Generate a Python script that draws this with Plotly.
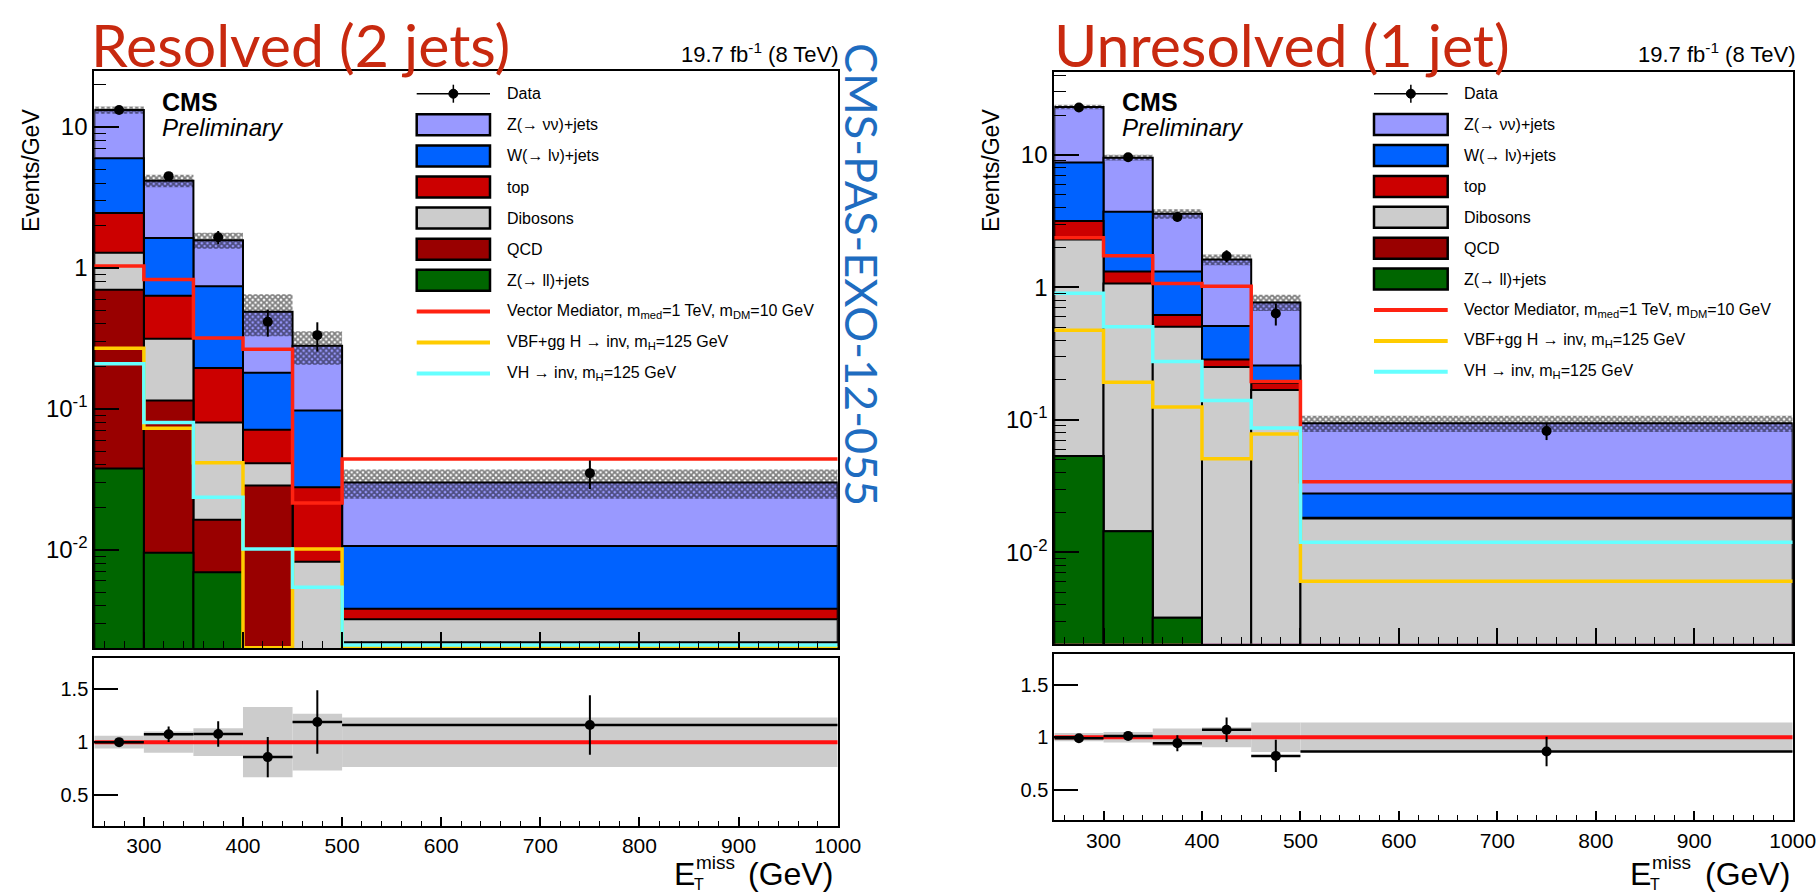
import plotly.graph_objects as go

W, H = 1817, 894
FONT = "Liberation Sans, Arial, Helvetica, sans-serif"

# ---------------- data ----------------
bin_edges = [250, 300, 350, 400, 450, 500, 1000]

# Resolved (2 jets)  -- events / GeV per process
res_zll = [0.0377, 0.0095, 0.0069, 0.0, 0.0, 0.0]
res_qcd = [0.662, 0.105, 0.0094, 0.0285, 0.0, 0.0022]
res_dib = [0.58, 0.200, 0.0637, 0.0125, 0.0082, 0.0010]
res_top = [1.17, 0.321, 0.115, 0.030, 0.0195, 0.0006]
res_wlv = [3.55, 0.994, 0.545, 0.109, 0.0693, 0.0068]
res_zvv = [7.2, 2.53, 0.83, 0.309, 0.183, 0.0194]
res_bkg_relunc = [0.06, 0.10, 0.13, 0.33, 0.267, 0.233]
res_data = [13.2, 4.48, 1.65, 0.415, 0.333, 0.0349]
res_data_err = [0.5, 0.3, 0.18, 0.09, 0.078, 0.008]
res_sig_vector = [1.03, 0.828, 0.318, 0.264, 0.0214, 0.044]
res_sig_vbf = [0.269, 0.0728, 0.0414, 0.00201, 0.0101, 0.00201]
res_sig_vh = [0.209, 0.080, 0.0235, 0.0101, 0.0054, 0.0021]
res_ratio = [1.0, 1.075, 1.076, 0.859, 1.19, 1.162]
res_ratio_err = [0.04, 0.073, 0.12, 0.19, 0.30, 0.28]

# Unresolved (1 jet)
unr_zll = [0.0533, 0.0144, 0.0032, 0.0, 0.0, 0.0]
unr_qcd = [0.0, 0.0, 0.0, 0.0, 0.0, 0.0]
unr_dib = [2.247, 1.056, 0.501, 0.25, 0.168, 0.018]
unr_top = [0.87, 0.25, 0.114, 0.035, 0.022, 0.0002]
unr_wlv = [5.58, 2.41, 0.70, 0.225, 0.067, 0.0096]
unr_zvv = [14.25, 5.81, 2.28, 1.11, 0.513, 0.0662]
unr_bkg_relunc = [0.04, 0.05, 0.083, 0.095, 0.14, 0.14]
unr_data = [22.8, 9.6, 3.40, 1.725, 0.635, 0.0823]
unr_data_err = [0.68, 0.44, 0.26, 0.18, 0.12, 0.012]
unr_sig_vector = [2.37, 1.73, 1.07, 1.02, 0.195, 0.034]
unr_sig_vbf = [0.474, 0.192, 0.125, 0.0509, 0.078, 0.00605]
unr_sig_vh = [0.904, 0.504, 0.276, 0.140, 0.0868, 0.0119]
unr_ratio = [0.99, 1.012, 0.943, 1.07, 0.822, 0.863]
unr_ratio_err = [0.03, 0.04, 0.076, 0.116, 0.154, 0.14]

ratio_ref = 1.0

bkg_labels = ["Z(→ νν)+jets", "W(→ lν)+jets", "top", "Dibosons", "QCD", "Z(→ ll)+jets"]
bkg_colors = ["#9999ff", "#0062ff", "#cc0000", "#cccccc", "#990000", "#006600"]
sig_labels = ["Vector Mediator, m<sub>med</sub>=1 TeV, m<sub>DM</sub>=10 GeV",
              "VBF+gg H → inv, m<sub>H</sub>=125 GeV",
              "VH → inv, m<sub>H</sub>=125 GeV"]
sig_colors = ["#ff2211", "#ffcc00", "#66ffff"]

centers = [(bin_edges[i] + bin_edges[i + 1]) / 2 for i in range(len(bin_edges) - 1)]
widths = [bin_edges[i + 1] - bin_edges[i] for i in range(len(bin_edges) - 1)]


def px(x):
    return x / W


def py(y):
    return 1 - y / H


fig = go.Figure()


def add_panel(xm, ym, xr, yr, procs_bottom_up, relunc, data, data_err, sigs, ratio, ratio_err):
    cum = []
    run = [0.0] * len(centers)
    for vals in procs_bottom_up:
        run = [a + b for a, b in zip(run, vals)]
        cum.append(run)
    colors_bottom_up = list(reversed(bkg_colors))
    for k in range(len(cum) - 1, -1, -1):
        fig.add_trace(go.Bar(
            x=centers, y=cum[k], width=widths, xaxis=xm, yaxis=ym,
            marker=dict(color=colors_bottom_up[k], line=dict(color="black", width=2)),
            showlegend=False, hoverinfo="skip"))
    total = cum[-1]
    lo = [t * (1 - r) for t, r in zip(total, relunc)]
    hi = [t * (1 + r) for t, r in zip(total, relunc)]
    fig.add_trace(go.Bar(
        x=centers, base=lo, y=[h - l for h, l in zip(hi, lo)], width=widths,
        xaxis=xm, yaxis=ym,
        marker=dict(color="rgba(0,0,0,0)", line=dict(width=0),
                    pattern=dict(shape="x", fgcolor="black", bgcolor="rgba(0,0,0,0)",
                                 size=4, solidity=0.7, fillmode="overlay")),
        showlegend=False, hoverinfo="skip"))
    for vals, col in zip(sigs, sig_colors):
        fig.add_trace(go.Scatter(
            x=bin_edges, y=vals + [vals[-1]], mode="lines", xaxis=xm, yaxis=ym,
            line=dict(shape="hv", color=col, width=3.5), showlegend=False))
    fig.add_trace(go.Scatter(
        x=centers, y=data, mode="markers", xaxis=xm, yaxis=ym,
        marker=dict(color="black", size=10),
        error_y=dict(type="data", array=data_err, color="black", thickness=2, width=0),
        showlegend=False))
    fig.add_trace(go.Bar(
        x=centers, base=[1 - r for r in relunc], y=[2 * r for r in relunc], width=widths,
        xaxis=xr, yaxis=yr, marker=dict(color="#cccccc", line=dict(width=0)),
        showlegend=False, hoverinfo="skip"))
    fig.add_trace(go.Scatter(
        x=[bin_edges[0], bin_edges[-1]], y=[ratio_ref, ratio_ref], mode="lines",
        xaxis=xr, yaxis=yr, line=dict(color="#ff1010", width=4), showlegend=False))
    fig.add_trace(go.Scatter(
        x=centers, y=ratio, mode="markers", xaxis=xr, yaxis=yr,
        marker=dict(color="black", size=10),
        error_y=dict(type="data", array=ratio_err, color="black", thickness=2, width=0),
        error_x=dict(type="data", array=[w / 2 for w in widths], color="black", thickness=2.5, width=0),
        showlegend=False))


add_panel("x", "y", "x2", "y2",
          [res_zll, res_qcd, res_dib, res_top, res_wlv, res_zvv],
          res_bkg_relunc, res_data, res_data_err,
          [res_sig_vector, res_sig_vbf, res_sig_vh], res_ratio, res_ratio_err)
add_panel("x3", "y3", "x4", "y4",
          [unr_zll, unr_qcd, unr_dib, unr_top, unr_wlv, unr_zvv],
          unr_bkg_relunc, unr_data, unr_data_err,
          [unr_sig_vector, unr_sig_vbf, unr_sig_vh], unr_ratio, unr_ratio_err)

minor_log = []
for d in [0.001, 0.01, 0.1, 1, 10]:
    for m in range(2, 10):
        minor_log.append(round(d * m, 6))

frame = dict(showline=True, mirror=True, linecolor="black", linewidth=2,
             showgrid=False, zeroline=False, automargin=False)


def main_x(domain, anchor):
    return dict(domain=domain, anchor=anchor, range=[250, 1000], showticklabels=False,
                ticks="inside", ticklen=16, tickwidth=1.5, tickcolor="black",
                tick0=0, dtick=100,
                minor=dict(ticks="inside", ticklen=7, tickwidth=1.2, tickcolor="black", tick0=0, dtick=20),
                **frame)


def main_y(domain, anchor, rng):
    return dict(domain=domain, anchor=anchor, type="log", range=rng,
                tickmode="array", tickvals=[0.01, 0.1, 1, 10],
                ticktext=["10<sup>-2</sup>", "10<sup>-1</sup>", "1", "10"],
                ticks="inside", ticklen=25, tickwidth=1.5, tickcolor="black",
                tickfont=dict(family=FONT, size=24, color="black"),
                minor=dict(tickmode="array", tickvals=minor_log, ticks="inside", ticklen=12,
                           tickwidth=1.2, tickcolor="black"),
                **frame)


def ratio_x(domain, anchor):
    return dict(domain=domain, anchor=anchor, range=[250, 1000],
                tick0=0, dtick=100, ticks="inside", ticklen=9, tickwidth=1.5, tickcolor="black",
                tickfont=dict(family=FONT, size=21, color="black"),
                minor=dict(ticks="inside", ticklen=5, tickwidth=1.2, tickcolor="black", tick0=0, dtick=20),
                **frame)


def ratio_y(domain, anchor):
    return dict(domain=domain, anchor=anchor, range=[0.21, 1.79],
                tickmode="array", tickvals=[0.5, 1, 1.5], ticktext=["0.5", "1", "1.5"],
                ticks="inside", ticklen=24, tickwidth=2, tickcolor="black",
                tickfont=dict(family=FONT, size=20, color="black"),
                **frame)


LX = [px(94.3), px(837.7)]
RX = [px(1054.3), px(1792.7)]

fig.update_layout(
    width=W, height=H, margin=dict(l=0, r=0, t=0, b=0, autoexpand=False), autosize=False,
    paper_bgcolor="white", plot_bgcolor="white", barmode="overlay", showlegend=False,
    font=dict(family=FONT, color="black"),
    xaxis=main_x(LX, "y"),
    yaxis=main_y([py(648.2), py(70.7)], "x", [-2.70, 1.40]),
    xaxis2=ratio_x(LX, "y2"),
    yaxis2=ratio_y([py(826), py(658.3)], "x2"),
    xaxis3=main_x(RX, "y3"),
    yaxis3=main_y([py(643.6), py(71.5)], "x3", [-2.69, 1.63]),
    xaxis4=ratio_x(RX, "y4"),
    yaxis4=ratio_y([py(820.3), py(654)], "x4"),
)

shapes = []
ann = []


def text(x, y, s, size, xanchor="left", yanchor="middle", color="black", family=FONT,
         weight=None, textangle=0):
    f = dict(family=family, size=size, color=color)
    if weight is not None:
        f["weight"] = weight
    ann.append(dict(x=px(x), y=py(y), xref="paper", yref="paper", text=s, showarrow=False,
                    xanchor=xanchor, yanchor=yanchor, font=f, textangle=textangle))


def legend(x0, x1, xt, y0, pitch):
    xc = (x0 + x1) / 2
    shapes.append(dict(type="line", xref="paper", yref="paper", x0=px(x0), x1=px(x1), y0=py(y0), y1=py(y0),
                       line=dict(color="black", width=1.5)))
    shapes.append(dict(type="line", xref="paper", yref="paper", x0=px(xc), x1=px(xc), y0=py(y0 - 9), y1=py(y0 + 9),
                       line=dict(color="black", width=1.5)))
    shapes.append(dict(type="circle", xref="paper", yref="paper", x0=px(xc - 4.5), x1=px(xc + 4.5),
                       y0=py(y0 - 4.5), y1=py(y0 + 4.5), fillcolor="black", line=dict(color="black", width=1)))
    text(xt, y0, "Data", 16)
    for i, (lab, col) in enumerate(zip(bkg_labels, bkg_colors)):
        yc = y0 + pitch * (i + 1)
        shapes.append(dict(type="rect", xref="paper", yref="paper", x0=px(x0), x1=px(x1),
                           y0=py(yc - 10.5), y1=py(yc + 10.5), fillcolor=col,
                           line=dict(color="black", width=2.5)))
        text(xt, yc, lab, 16)
    for j, (lab, col) in enumerate(zip(sig_labels, sig_colors)):
        yc = y0 + pitch * (len(bkg_labels) + 1 + j)
        shapes.append(dict(type="line", xref="paper", yref="paper", x0=px(x0), x1=px(x1), y0=py(yc), y1=py(yc),
                           line=dict(color=col, width=4)))
        text(xt, yc, lab, 16)


legend(416.7, 490, 505, 93.7, 31.1)
legend(1374, 1447.7, 1462.3, 93.7, 30.9)

text(160, 102, "<b>CMS</b>", 25)
text(160, 128, "<i>Preliminary</i>", 24)
text(1120, 102, "<b>CMS</b>", 25)
text(1120, 128, "<i>Preliminary</i>", 24)

text(841, 53, "19.7 fb<sup>-1</sup> (8 TeV)", 22, xanchor="right")
text(1798, 53, "19.7 fb<sup>-1</sup> (8 TeV)", 22, xanchor="right")

text(89, 45, "Resolved (2 jets)", 59, color="#c8290f", family="Lato")
text(1052, 45, "Unresolved (1 jet)", 59, color="#c8290f", family="Lato")
text(862, 274, "CMS-PAS-EXO-12-055", 45, xanchor="center", color="#1e6cc0", family="Lato", textangle=90)

text(31, 171, "Events/GeV", 23, xanchor="center", textangle=-90)
text(991, 171, "Events/GeV", 23, xanchor="center", textangle=-90)

for ex, mx, tx, gx in [(672, 694, 692, 835), (1628, 1650, 1648, 1792)]:
    text(ex, 874, "E", 32)
    text(mx, 862, "miss", 19)
    text(tx, 884, "T", 16)
    text(gx, 874, "(GeV)", 32, xanchor="right")

fig.update_layout(shapes=shapes, annotations=ann)
fig.write_html("out.html")
